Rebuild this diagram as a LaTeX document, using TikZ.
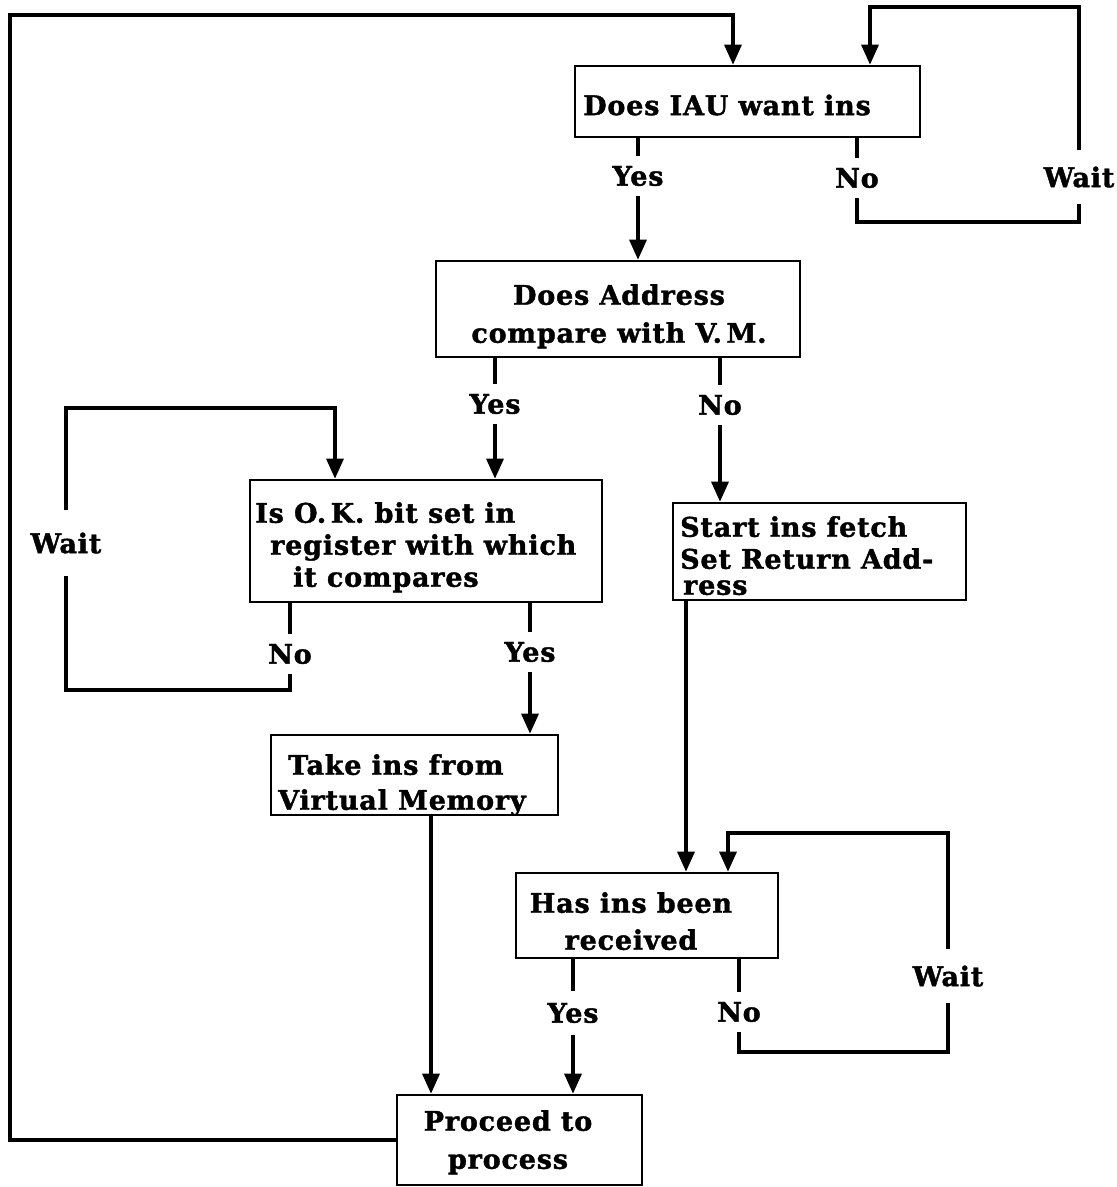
\documentclass[tikz,border=0pt]{standalone}
\usepackage{fontspec}
\setmainfont{DejaVu Serif}[LetterSpace=3, BoldFeatures={FakeBold=1.5}]
\usetikzlibrary{arrows.meta}
\newcommand{\myfs}[1]{\bfseries\fontsize{27}{#1}\selectfont}
\begin{document}
\begin{tikzpicture}[x=1pt,y=-1pt,
  font=\myfs{34},
  box/.style={draw, line width=2.6pt, inner sep=0pt},
  txt/.style={inner sep=0pt, align=left},
  lbl/.style={inner xsep=2pt, inner ysep=10pt},
  waitlbl/.style={inner xsep=2pt, inner ysep=16pt},
  ln/.style={line width=3.2pt},
  arr/.style={ln, -{Triangle[length=20pt,width=17pt]}}]
\useasboundingbox (0,0) rectangle (1117,1187);

% boxes
\node[box, minimum width=345pt, minimum height=71pt] (b1) at (747.5,101.5) {};
\node[txt, anchor=west] (t1) at (583,105) {Does IAU want ins};

\node[box, minimum width=364pt, minimum height=96pt] (b2) at (618,309) {};
\node[txt, align=center, anchor=north, font=\myfs{38}] (t2) at (619,284) {Does Address\\compare with V.\,M.};

\node[box, minimum width=352pt, minimum height=122pt] (b3) at (426,541) {};
\node[txt, anchor=north west, font=\myfs{32}] (t3) at (255,502) {Is O.\,K. bit set in\\\hspace*{15pt}register with which\\\hspace*{38pt}it compares};

\node[box, minimum width=293pt, minimum height=97pt] (b4) at (819.5,551.5) {};
\node[txt, anchor=north west, font=\myfs{32}] (t4) at (680,516) {Start ins fetch\\Set Return Add-\\[-6pt]\hspace*{3pt}ress};

\node[box, minimum width=287pt, minimum height=80pt] (b5) at (414.5,775) {};
\node[txt, anchor=north west, font=\myfs{35}] (t5) at (278,754) {\hspace*{10pt}Take ins from\\Virtual Memory};

\node[box, minimum width=262pt, minimum height=85pt] (b6) at (647,915.5) {};
\node[txt, align=center, anchor=north, font=\myfs{37}] (t6) at (631,892) {Has ins been\\received};

\node[box, minimum width=245pt, minimum height=90pt] (b7) at (519.5,1140) {};
\node[txt, align=center, anchor=north, font=\myfs{38}] (t7) at (508,1110) {Proceed to\\process};

% labels
\node[lbl] (yes1) at (638,176) {Yes};
\node[lbl] (no1) at (857,178) {No};
\node[waitlbl] (wait1) at (1079,177) {Wait};
\node[lbl] (yes2) at (495,404) {Yes};
\node[lbl] (no2) at (720,405) {No};
\node[lbl] (no3) at (290,654) {No};
\node[waitlbl, inner ysep=22pt] (wait3) at (66,543) {Wait};
\node[lbl] (yes3) at (530,652) {Yes};
\node[lbl, inner ysep=12pt] (yes6) at (573,1013) {Yes};
\node[lbl] (no6) at (739,1012) {No};
\node[waitlbl] (wait6) at (948,976) {Wait};

% coordinates
\coordinate (c1a) at (10,1140);
\coordinate (c1b) at (10,15);
\coordinate (c1c) at (733,15);
\coordinate (w1a) at (857,222);
\coordinate (w1b) at (1079,222);
\coordinate (w1c) at (1079,7);
\coordinate (w1d) at (870,7);
\coordinate (w3a) at (290,690);
\coordinate (w3b) at (66,690);
\coordinate (w3c) at (66,408);
\coordinate (w3d) at (335,408);
\coordinate (w6a) at (739,1052);
\coordinate (w6b) at (948,1052);
\coordinate (w6c) at (948,833);
\coordinate (w6d) at (728,833);
\coordinate (x46) at (686,0);
\coordinate (x57) at (431,0);

% connectors
\draw[arr] (b7.west) -- (c1a) -- (c1b) -- (c1c) -- (c1c |- b1.north);
\draw[arr] (b1.south -| no1) -- (no1) -- (w1a) -- (w1b) -- (wait1) -- (w1c) -- (w1d) -- (w1d |- b1.north);
\draw[arr] (b1.south -| yes1) -- (yes1) -- (yes1 |- b2.north);
\draw[arr] (b2.south -| yes2) -- (yes2) -- (yes2 |- b3.north);
\draw[arr] (b2.south -| no2) -- (no2) -- (no2 |- b4.north);
\draw[arr] (b3.south -| no3) -- (no3) -- (w3a) -- (w3b) -- (wait3) -- (w3c) -- (w3d) -- (w3d |- b3.north);
\draw[arr] (b3.south -| yes3) -- (yes3) -- (yes3 |- b5.north);
\draw[arr] (b4.south -| x46) -- (b6.north -| x46);
\draw[arr] (b5.south -| x57) -- (b7.north -| x57);
\draw[arr] (b6.south -| yes6) -- (yes6) -- (yes6 |- b7.north);
\draw[arr] (b6.south -| no6) -- (no6) -- (w6a) -- (w6b) -- (wait6) -- (w6c) -- (w6d) -- (w6d |- b6.north);
\end{tikzpicture}
\end{document}
